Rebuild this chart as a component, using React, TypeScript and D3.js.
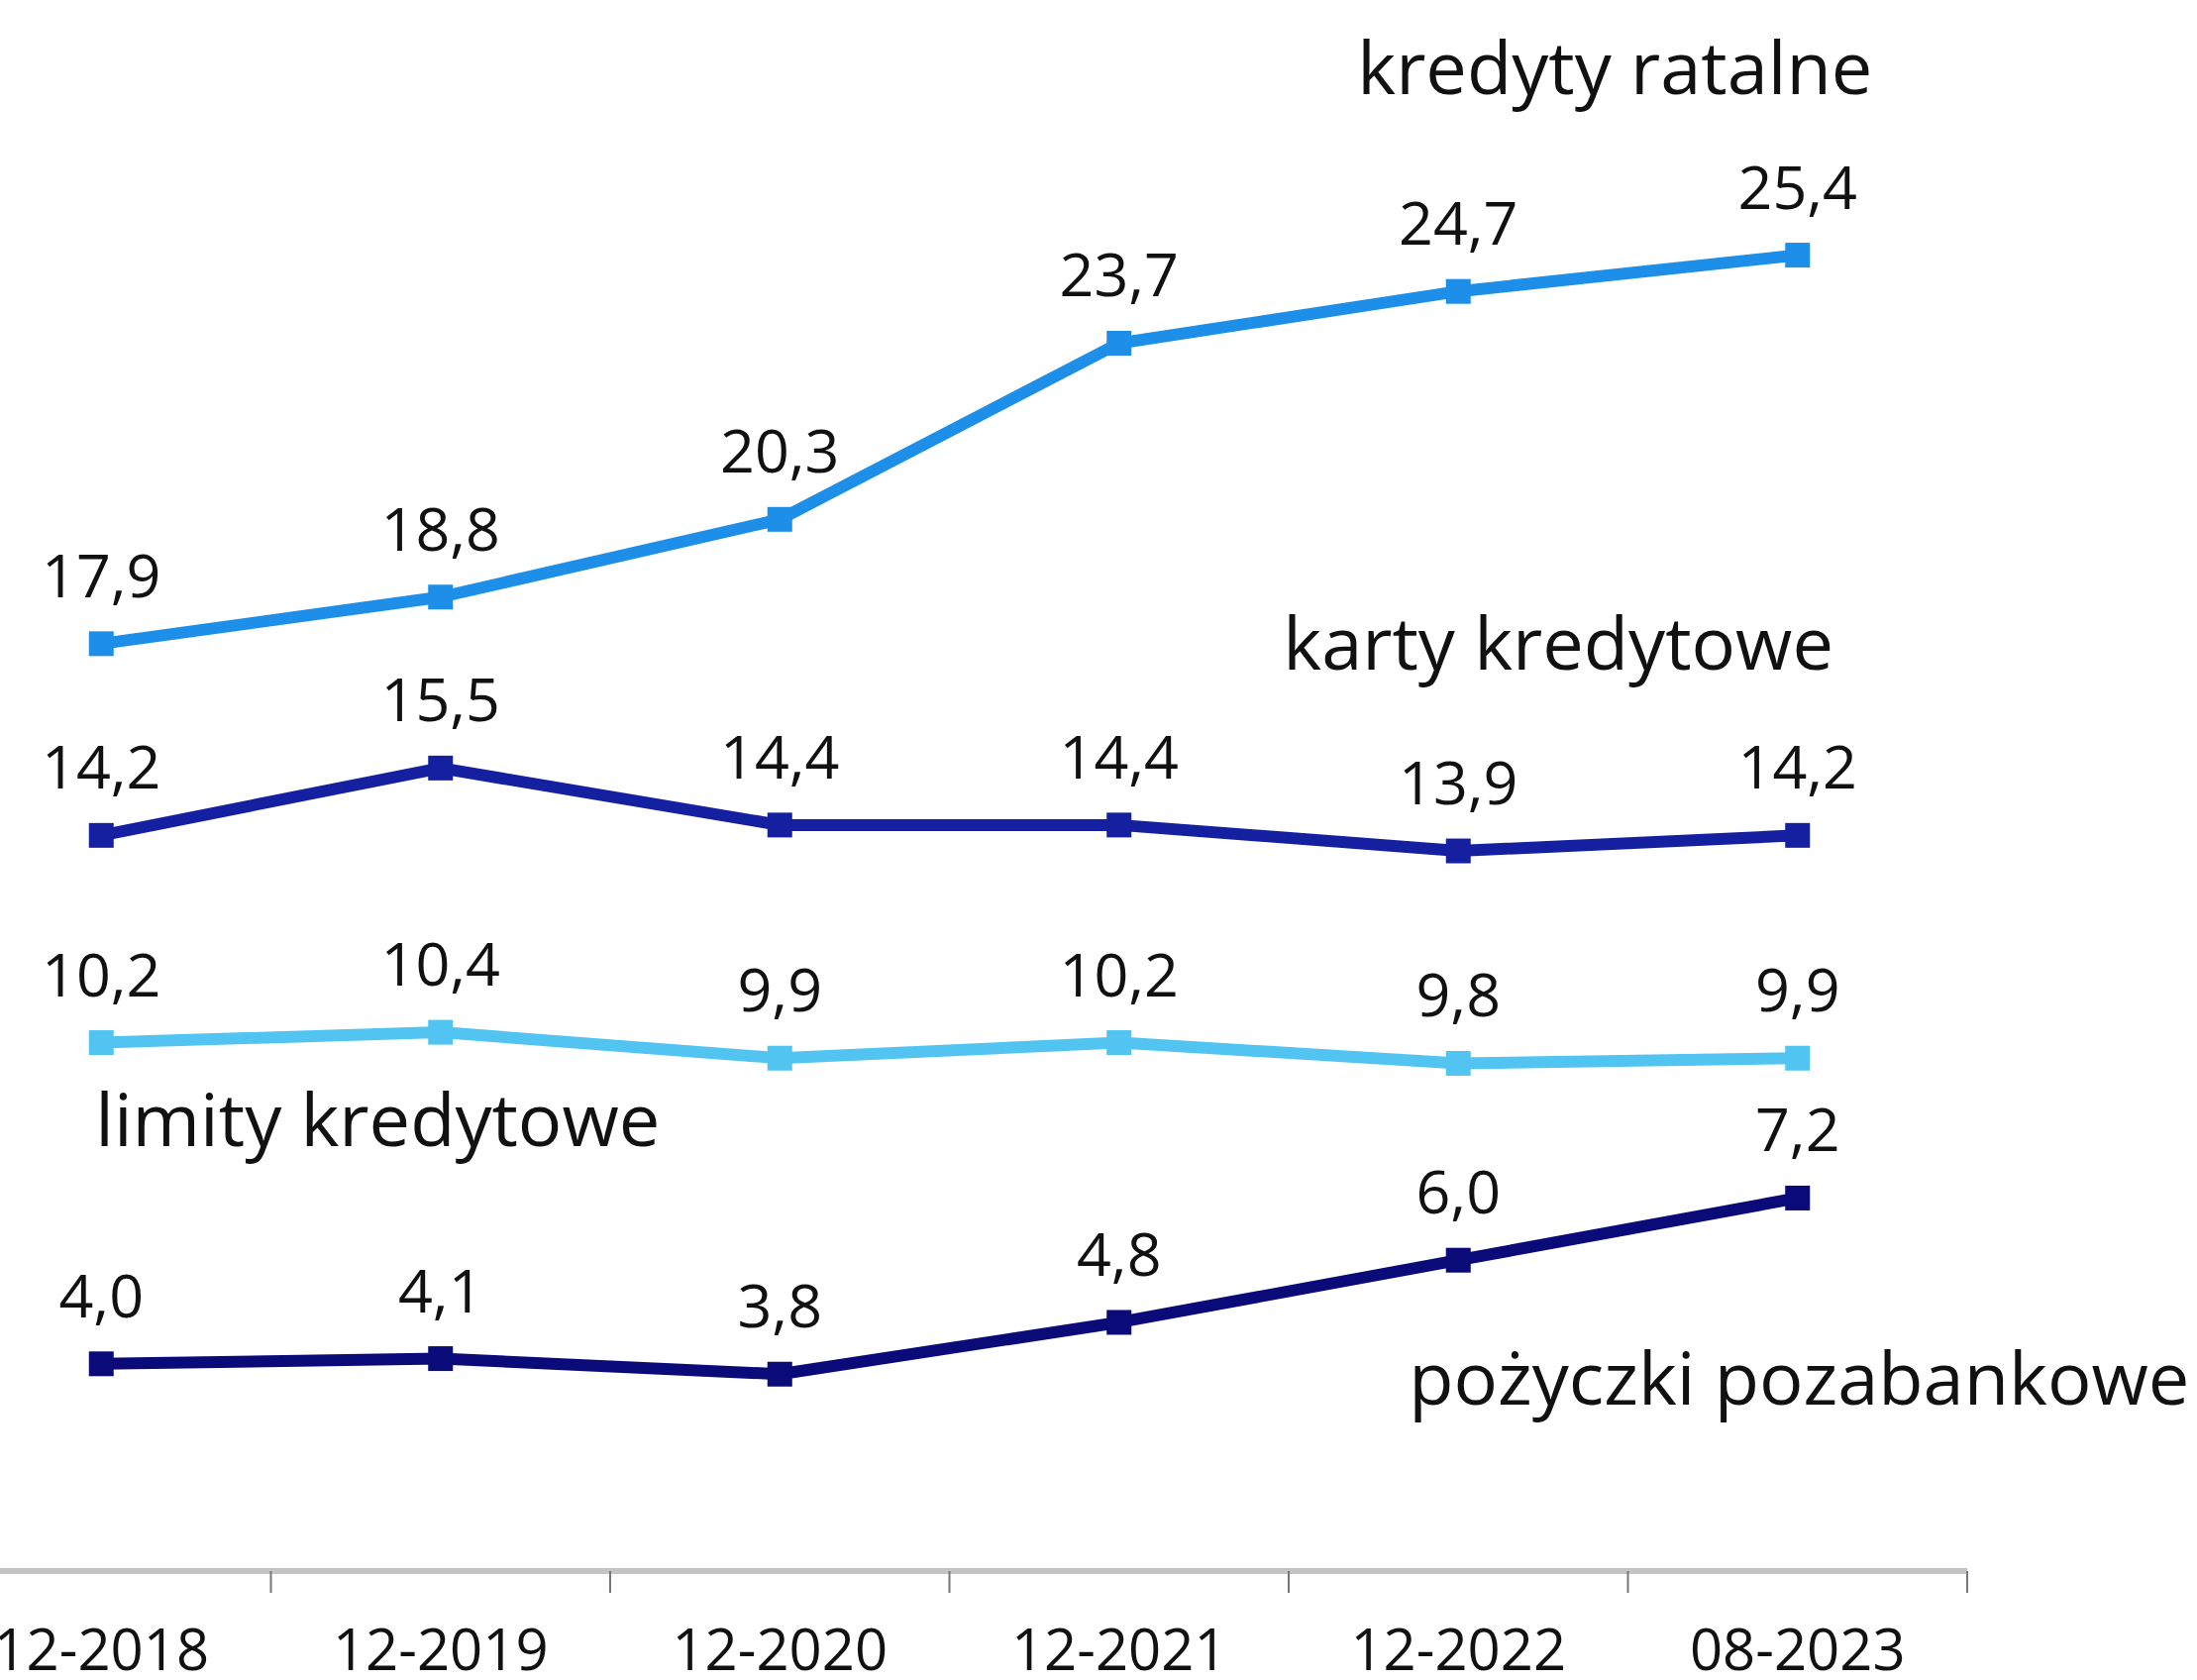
import React from "react";
import * as d3 from "d3";

const categories = ["12-2018", "12-2019", "12-2020", "12-2021", "12-2022", "08-2023"];
const kredytyRatalne = [17.9, 18.8, 20.3, 23.7, 24.7, 25.4];
const kartyKredytowe = [14.2, 15.5, 14.4, 14.4, 13.9, 14.2];
const limityKredytowe = [10.2, 10.4, 9.9, 10.2, 9.8, 9.9];
const pozyczkiPozabankowe = [4.0, 4.1, 3.8, 4.8, 6.0, 7.2];
const seriesNames = ["kredyty ratalne", "karty kredytowe", "limity kredytowe", "pożyczki pozabankowe"];
const seriesColors = ["#1e8fe8", "#1420a0", "#52c4f2", "#0a0a78"];

const W = 2218;
const H = 1696;
const FONT = "'Open Sans', sans-serif";

export default function App() {
  const x = d3.scaleBand<string>().domain(categories).range([-69, 1986]).padding(0);
  const y = d3.scaleLinear().domain([0, 30]).range([1586, 17]);
  const cx = (c: string) => (x(c) as number) + x.bandwidth() / 2;
  const all = [kredytyRatalne, kartyKredytowe, limityKredytowe, pozyczkiPozabankowe];
  const line = d3
    .line<number>()
    .x((_, i) => cx(categories[i]))
    .y((d) => y(d));
  const fmt = (v: number) => v.toFixed(1).replace(".", ",");

  const axisY = y(0);
  const ticks = categories.map((c) => (x(c) as number) + x.bandwidth());
  const ms = 25;

  // series label placements (data coordinates)
  const labelPos = [
    { x: cx(categories[4]) - 102, y: y(28.5) },
    { x: cx(categories[4]) - 177, y: y(17.4) },
    { x: cx(categories[0]) - 6, y: y(8.2) },
    { x: cx(categories[4]) - 50, y: y(3.22) },
  ];

  return (
    <svg
      width={W}
      height={H}
      style={{ position: "absolute", left: 0, top: 0, background: "#fff" }}
    >
      <rect x={0} y={0} width={W} height={H} fill="#fff" />
      {/* axis */}
      <line x1={-69} x2={1986} y1={axisY} y2={axisY} stroke="#c4c4c4" strokeWidth={6} />
      {ticks.map((t, i) => (
        <line key={i} x1={t} x2={t} y1={axisY} y2={axisY + 22} stroke="#777" strokeWidth={2} />
      ))}
      {categories.map((c) => (
        <text
          key={c}
          x={cx(c)}
          y={1686}
          textAnchor="middle"
          fontFamily={FONT}
          fontSize={58}
          fill="#111"
        >
          {c}
        </text>
      ))}
      {all.map((s, si) => (
        <g key={si}>
          <path d={line(s) || ""} fill="none" stroke={seriesColors[si]} strokeWidth={12} strokeLinejoin="round" />
          {s.map((v, i) => (
            <rect
              key={i}
              x={cx(categories[i]) - ms / 2}
              y={y(v) - ms / 2}
              width={ms}
              height={ms}
              fill={seriesColors[si]}
            />
          ))}
          {s.map((v, i) => (
            <text
              key={"t" + i}
              x={cx(categories[i])}
              y={y(v) - 47}
              textAnchor="middle"
              fontFamily={FONT}
              fontSize={61}
              fill="#111"
            >
              {fmt(v)}
            </text>
          ))}
          <text
            x={labelPos[si].x}
            y={labelPos[si].y}
            fontFamily={FONT}
            fontSize={74}
            fill="#111"
          >
            {seriesNames[si]}
          </text>
        </g>
      ))}
    </svg>
  );
}
